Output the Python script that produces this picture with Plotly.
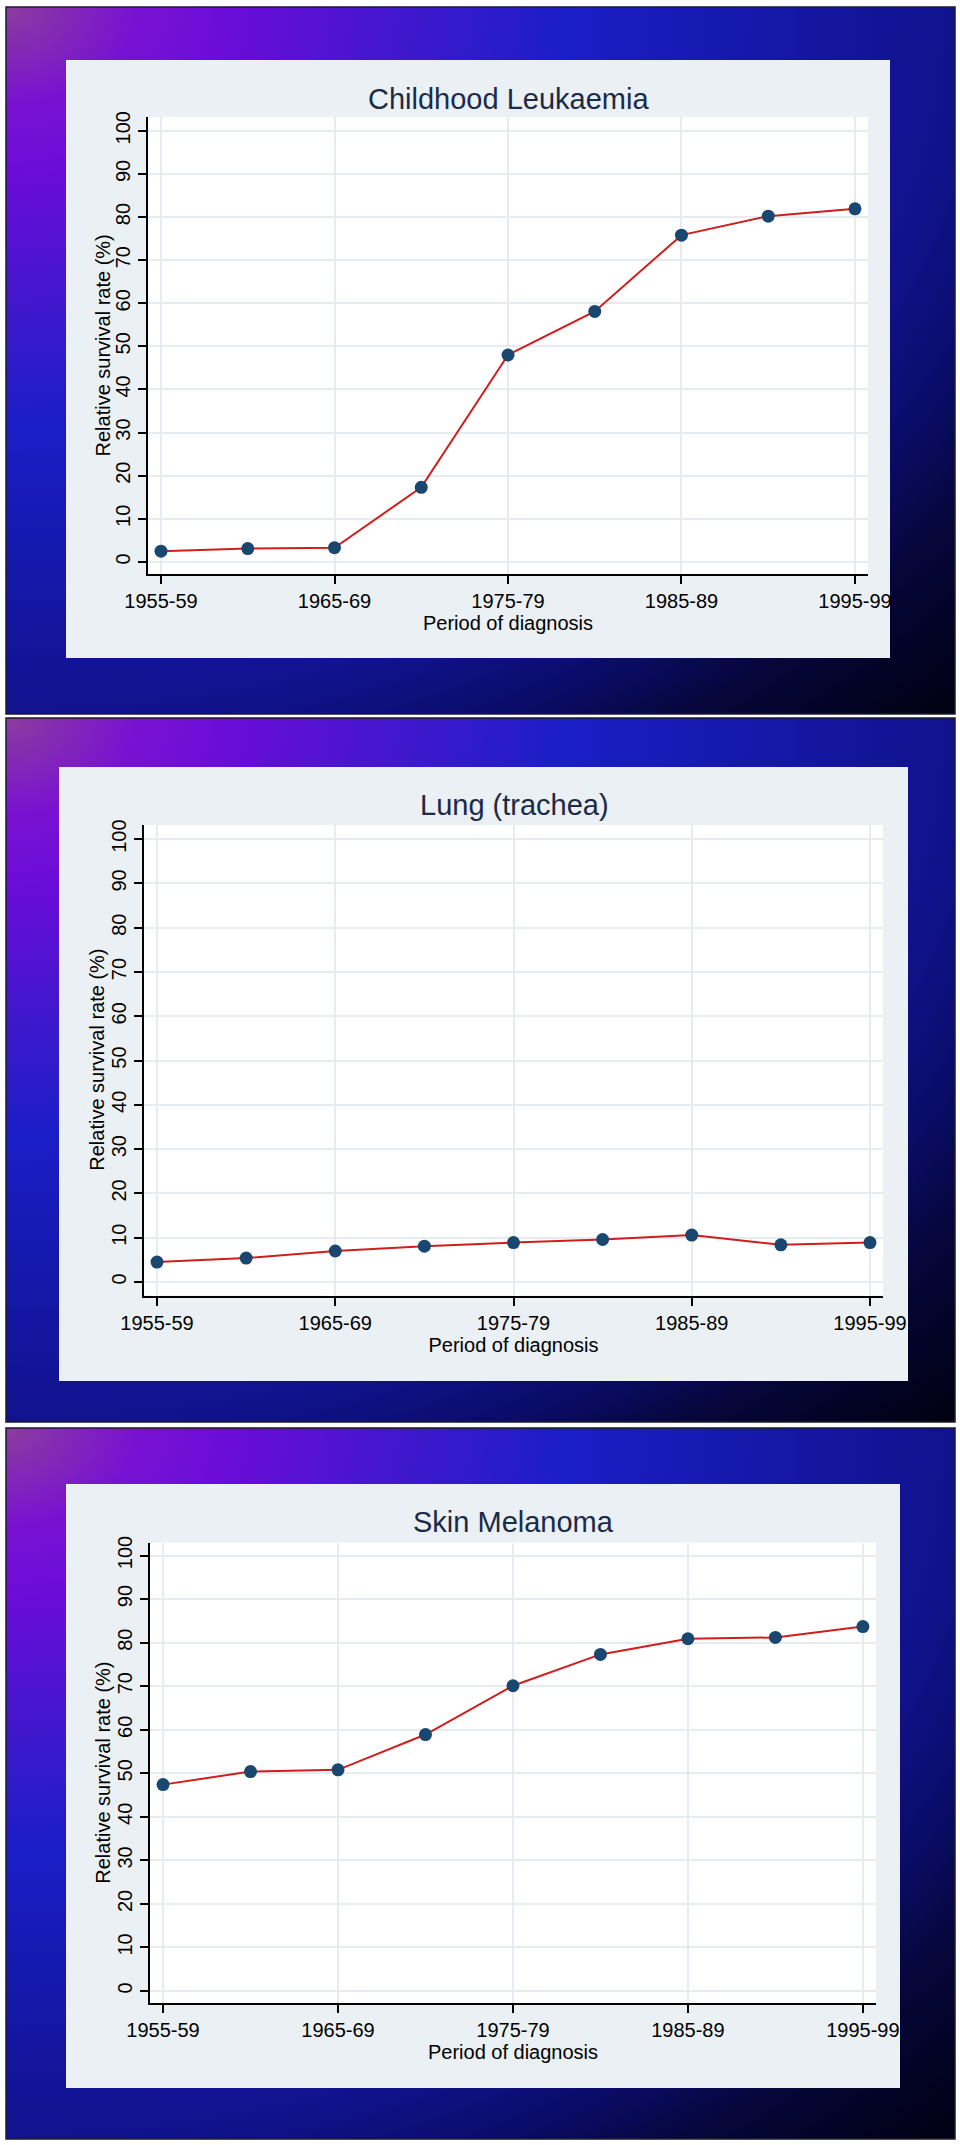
import base64
import plotly.graph_objects as go

# ---------------- data ----------------
periods = ["1955-59", "1960-64", "1965-69", "1970-74", "1975-79",
           "1980-84", "1985-89", "1990-94", "1995-99"]
tick_periods = ["1955-59", "1965-69", "1975-79", "1985-89", "1995-99"]
y_ticks = [0, 10, 20, 30, 40, 50, 60, 70, 80, 90, 100]

leukaemia = [2.5, 3.1, 3.3, 17.3, 48.0, 58.1, 75.8, 80.2, 81.9]
lung = [4.5, 5.4, 7.0, 8.1, 8.9, 9.6, 10.6, 8.4, 8.9]
melanoma = [47.4, 50.4, 50.8, 58.9, 70.1, 77.3, 80.9, 81.2, 83.7]

panel_titles = ["Childhood Leukaemia", "Lung (trachea)", "Skin Melanoma"]
x_title = "Period of diagnosis"
y_title = "Relative survival rate (%)"
series = [leukaemia, lung, melanoma]

# ---------------- layout helpers ----------------
W, H = 960, 2145


def fx(px):
    return px / W


def fy(py):
    return 1 - py / H


panels = [
    dict(frame=(6, 7, 955, 714), inner=(66, 60, 890, 658),
         plot=(148, 117, 868, 574), title=(508, 99), ytitle_x=103,
         yr=(-2.8, 103.2), xr=(-0.15, 8.15)),
    dict(frame=(6, 718, 955, 1422), inner=(59, 767, 908, 1381),
         plot=(144, 825, 883, 1295.5), title=(514, 805), ytitle_x=97.5,
         yr=(-3.05, 103.2), xr=(-0.146, 8.146)),
    dict(frame=(6, 1428, 955, 2139), inner=(66, 1484, 900, 2088),
         plot=(150, 1542.5, 876, 2003), title=(513, 1522), ytitle_x=103,
         yr=(-2.75, 103.0), xr=(-0.149, 8.15)),
]

# gradient background (purple top-left -> blue -> black bottom-right)
stops = [(0.0, "#8c3c9e"), (0.097, "#7812d2"), (0.17, "#6a0cd8"),
         (0.30, "#3f18cc"), (0.42, "#1a1ec6"), (0.60, "#1416a2"),
         (0.71, "#10128c"), (0.79, "#0a0c6a"), (0.87, "#06063a"),
         (1.0, "#000010")]
stop_xml = "".join(
    f'<stop offset="{o}" stop-color="{c}"/>' for o, c in stops)
svg = (
    '<svg xmlns="http://www.w3.org/2000/svg" width="949" height="707" '
    'viewBox="0 0 949 707" preserveAspectRatio="none">'
    '<defs><radialGradient id="g" gradientUnits="userSpaceOnUse" '
    'cx="0" cy="0" r="1340" gradientTransform="scale(1,0.75)">'
    + stop_xml +
    '</radialGradient></defs>'
    '<rect x="0" y="0" width="949" height="707" fill="url(#g)"/></svg>'
)
grad_uri = "data:image/svg+xml;base64," + base64.b64encode(
    svg.encode()).decode()

PANEL_BG = "#eaf0f3"
GRID = "#e6ecef"
TITLE_COLOR = "#1b2a48"
LINE_RED = "#d01e1e"
MARKER_NAVY = "#1a476f"
FONT = "Liberation Sans, Arial, Helvetica, sans-serif"

fig = go.Figure()
shapes, images, annotations = [], [], []
layout_axes = {}

for i, (p, vals, ttl) in enumerate(zip(panels, series, panel_titles), start=1):
    xs = "" if i == 1 else str(i)
    fx0, fy0, fx1, fy1 = p["frame"]
    images.append(dict(source=grad_uri, xref="paper", yref="paper",
                       x=fx(fx0), y=fy(fy0), sizex=fx(fx1 - fx0),
                       sizey=(fy1 - fy0) / H, sizing="stretch",
                       xanchor="left", yanchor="top", layer="below"))
    shapes.append(dict(type="rect", xref="paper", yref="paper",
                       x0=fx(fx0), x1=fx(fx1), y0=fy(fy1), y1=fy(fy0),
                       line=dict(color="#1c1c2c", width=1.5),
                       fillcolor="rgba(0,0,0,0)", layer="above"))
    ix0, iy0, ix1, iy1 = p["inner"]
    shapes.append(dict(type="rect", xref="paper", yref="paper",
                       x0=fx(ix0), x1=fx(ix1), y0=fy(iy1), y1=fy(iy0),
                       line=dict(width=0), fillcolor=PANEL_BG, layer="below"))
    px0, py0, px1, py1 = p["plot"]
    shapes.append(dict(type="rect", xref="paper", yref="paper",
                       x0=fx(px0), x1=fx(px1), y0=fy(py1), y1=fy(py0),
                       line=dict(width=0), fillcolor="white", layer="below"))
    tx, ty = p["title"]
    annotations.append(dict(text=ttl, x=fx(tx), y=fy(ty), xref="paper",
                            yref="paper", xanchor="center", yanchor="middle",
                            showarrow=False,
                            font=dict(size=29, color=TITLE_COLOR, family=FONT)))
    # y-axis title (vertical), placed close to the tick labels as in the original
    annotations.append(dict(text=y_title, x=fx(p["ytitle_x"]),
                            y=fy((py0 + py1) / 2), xref="paper", yref="paper",
                            xanchor="center", yanchor="middle", textangle=-90,
                            showarrow=False,
                            font=dict(size=20, color="black", family=FONT)))

    fig.add_trace(go.Scatter(
        x=periods, y=vals, mode="lines+markers",
        line=dict(color=LINE_RED, width=2),
        marker=dict(color=MARKER_NAVY, size=13),
        xaxis="x" + xs, yaxis="y" + xs, showlegend=False, cliponaxis=False,
    ))

    layout_axes["xaxis" + xs] = dict(
        domain=[fx(px0), fx(px1)], anchor="y" + xs, type="category",
        categoryorder="array", categoryarray=periods,
        range=list(p["xr"]), tickmode="array", tickvals=tick_periods,
        ticktext=tick_periods, showgrid=True, gridcolor=GRID, gridwidth=1.5,
        showline=True, linecolor="black", linewidth=2, ticks="outside",
        ticklen=8, tickwidth=2, tickcolor="black", zeroline=False,
        tickfont=dict(size=20, color="black", family=FONT),
        title=dict(text=x_title, standoff=3,
                   font=dict(size=20, color="black", family=FONT)),
        automargin=False, fixedrange=True,
    )
    layout_axes["yaxis" + xs] = dict(
        domain=[fy(py1), fy(py0)], anchor="x" + xs, range=list(p["yr"]),
        tickmode="array", tickvals=y_ticks, tickangle=-90,
        showgrid=True, gridcolor=GRID, gridwidth=1.5,
        showline=True, linecolor="black", linewidth=2, ticks="outside",
        ticklen=8, tickwidth=2, tickcolor="black", zeroline=False,
        tickfont=dict(size=20, color="black", family=FONT),
        automargin=False, fixedrange=True,
    )

fig.update_layout(
    width=W, height=H, margin=dict(l=0, r=0, t=0, b=0),
    paper_bgcolor="white", plot_bgcolor="rgba(0,0,0,0)",
    font=dict(family=FONT, color="black"),
    shapes=shapes, images=images, annotations=annotations,
    **layout_axes,
)

fig.write_html("out.html")
